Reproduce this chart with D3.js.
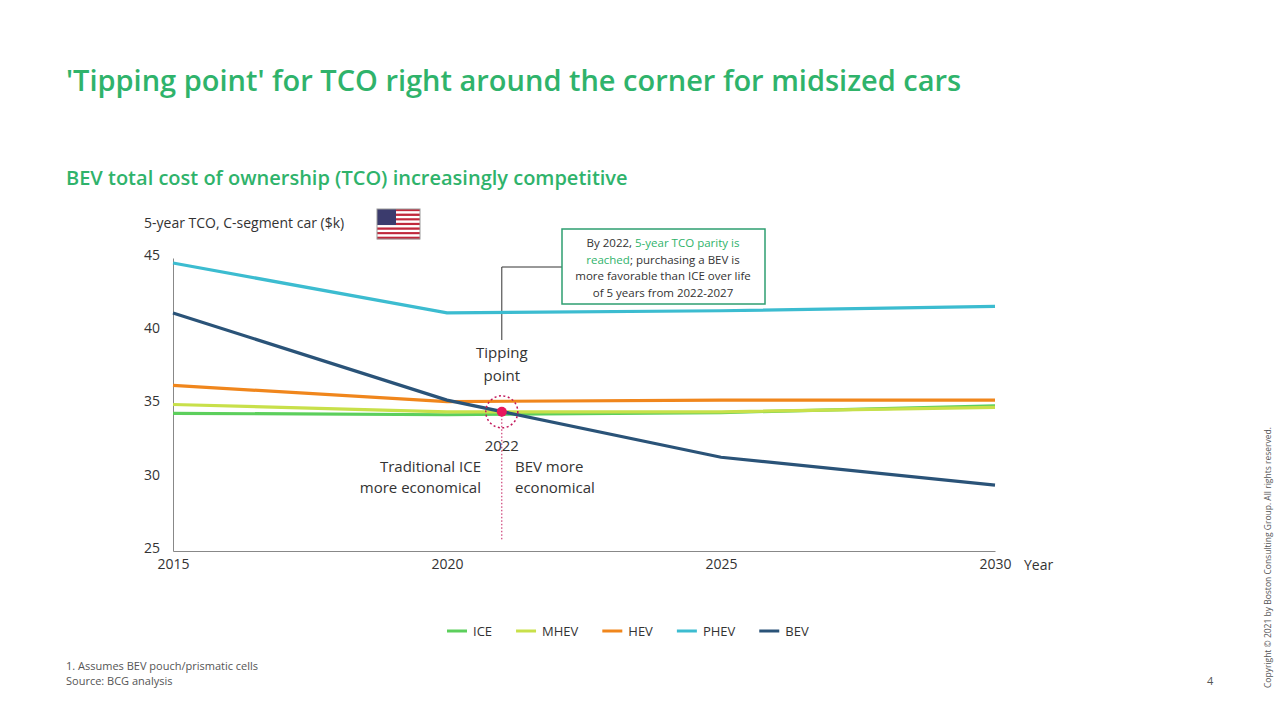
<!DOCTYPE html>
<html><head><meta charset="utf-8">
<script src="https://cdn.jsdelivr.net/npm/d3@7"></script>
<style>body{margin:0;background:#fff;font-family:"Open Sans",sans-serif}</style>
</head><body><svg id="c" width="1280" height="720"></svg>
<script>
const years=[2015,2020,2025,2030];
const seriesNames=["ICE","MHEV","HEV","PHEV","BEV"];
const ICE=[34.4,34.3,34.45,34.9];
const MHEV=[35.0,34.5,34.5,34.8];
const HEV=[36.3,35.2,35.3,35.3];
const PHEV=[44.66,41.25,41.4,41.7];
const BEV=[41.25,35.3,31.4,29.5];
const colors=["#5ccf5c","#c8e04a","#f0861c","#3cbcd0","#2a5378"];
const yTicks=[25,30,35,40,45];
const xTicks=[2015,2020,2025,2030];
const tipYear=2021, tipValue=34.5;

const svg=d3.select("#c");
const green="#2fb36b";
svg.append("text").attr("x",66).attr("y",91).attr("fill",green).attr("font-size",29).attr("font-weight",600).text("'Tipping point' for TCO right around the corner for midsized cars");
svg.append("text").attr("x",66).attr("y",185).attr("fill",green).attr("font-size",20).attr("font-weight",600).text("BEV total cost of ownership (TCO) increasingly competitive");
svg.append("text").attr("x",144).attr("y",228).attr("fill","#333").attr("font-size",14).text("5-year TCO, C-segment car ($k)");
const fl=svg.append("g").attr("transform","translate(377,209)");
for(let i=0;i<13;i++)fl.append("rect").attr("x",0).attr("y",i*30/13).attr("width",43).attr("height",30/13+0.2).attr("fill",i%2?"#fff":"#c0283c");
fl.append("rect").attr("width",19).attr("height",16).attr("fill","#3b3b6d");
fl.append("rect").attr("width",43).attr("height",30).attr("fill","none").attr("stroke","#999");

const x=d3.scaleLinear().domain([2015,2030]).range([173,995]);
const y=d3.scaleLinear().domain([25,45]).range([551,258]);

svg.append("g").attr("transform","translate(0,551)").call(d3.axisBottom(x).tickValues(xTicks).tickFormat(d3.format("d")).tickSize(0))
 .call(g=>{g.select(".domain").attr("stroke","#888");g.selectAll("text").attr("font-size",14).attr("fill","#333").attr("font-family","Open Sans").attr("dy","1.1em");});
svg.append("g").attr("transform","translate(173,0)").call(d3.axisLeft(y).tickValues(yTicks).tickSize(0))
 .call(g=>{g.select(".domain").attr("stroke","#888");g.selectAll("text").attr("font-size",14).attr("fill","#333").attr("font-family","Open Sans").attr("x",-13).attr("dy","0.1em");});
svg.append("text").attr("x",1024).attr("y",570).attr("font-size",14).attr("fill","#333").text("Year");

svg.append("path").attr("d",`M${x(tipYear)},340V267H562`).attr("fill","none").attr("stroke","#333");
svg.append("rect").attr("x",562).attr("y",229).attr("width",203).attr("height",75).attr("fill","#fff").attr("stroke","#2e9e70").attr("stroke-width",1.5);
const bt=[["By 2022, ",["5-year TCO parity is",1]],[["reached",1],"; purchasing a BEV is"],["more favorable than ICE over life"],["of 5 years from 2022-2027"]];
bt.forEach((ln,i)=>{const t=svg.append("text").attr("x",663).attr("y",247+i*16.5).attr("text-anchor","middle").attr("font-size",11.5).attr("fill","#333");
 ln.forEach(p=>{if(Array.isArray(p))t.append("tspan").attr("fill",green).text(p[0]);else t.append("tspan").text(p);});});

const line=d3.line().x((d,i)=>x(years[i])).y(d=>y(d));
[ICE,MHEV,HEV,PHEV,BEV].forEach((s,i)=>svg.append("path").attr("d",line(s)).attr("fill","none").attr("stroke",colors[i]).attr("stroke-width",3.2));

svg.append("line").attr("x1",x(tipYear)).attr("x2",x(tipYear)).attr("y1",y(tipValue)).attr("y2",541).attr("stroke","#c2185b").attr("stroke-dasharray","1.5,2");
svg.append("circle").attr("cx",x(tipYear)).attr("cy",y(tipValue)).attr("r",16).attr("fill","none").attr("stroke","#c2185b").attr("stroke-width",1.5).attr("stroke-dasharray","2,2.5");
svg.append("circle").attr("cx",x(tipYear)).attr("cy",y(tipValue)).attr("r",5).attr("fill","#e8175d");
const lab=(t,xx,yy,a)=>svg.append("text").attr("x",xx).attr("y",yy).attr("text-anchor",a).attr("font-size",15).attr("fill","#333").text(t);
lab("Tipping",x(tipYear),358,"middle");lab("point",x(tipYear),381,"middle");
lab("2022",x(tipYear),451,"middle");
lab("Traditional ICE",481,472,"end");lab("more economical",481,493,"end");
lab("BEV more",515,472,"start");lab("economical",515,493,"start");

let lx=447;
seriesNames.forEach((n,i)=>{svg.append("line").attr("x1",lx).attr("x2",lx+20).attr("y1",631).attr("y2",631).attr("stroke",colors[i]).attr("stroke-width",3);
 const t=svg.append("text").attr("x",lx+26).attr("y",636).attr("font-size",13).attr("fill","#333").text(n);
 lx+=26+t.node().getComputedTextLength()+24;});

svg.append("text").attr("x",66).attr("y",670).attr("font-size",11).attr("fill","#555").text("1. Assumes BEV pouch/prismatic cells");
svg.append("text").attr("x",66).attr("y",685).attr("font-size",11).attr("fill","#555").text("Source: BCG analysis");
svg.append("text").attr("x",1207).attr("y",685).attr("font-size",11).attr("fill","#555").text("4");
svg.append("text").attr("transform","translate(1271,688) rotate(-90)").attr("font-size",8.5).attr("fill","#555").text("Copyright © 2021 by Boston Consulting Group. All rights reserved.");
</script></body></html>
